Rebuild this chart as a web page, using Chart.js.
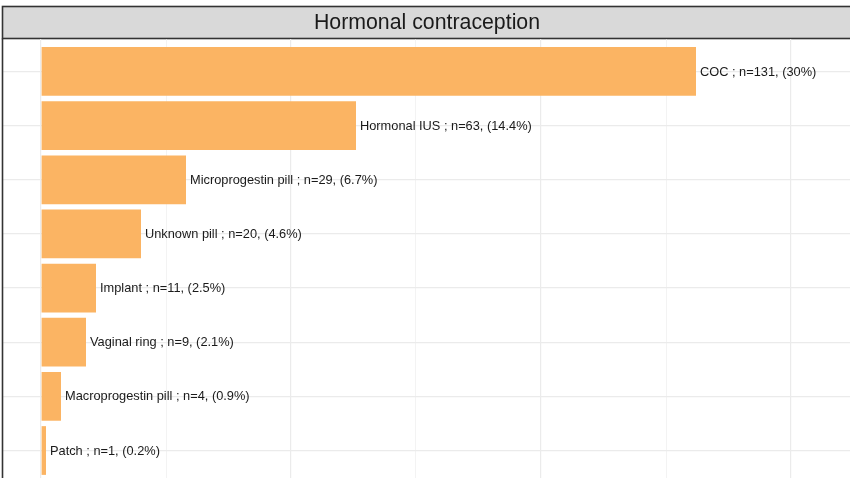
<!DOCTYPE html>
<html>
<head>
<meta charset="utf-8">
<script src="https://cdn.jsdelivr.net/npm/chart.js@4"></script>
<style>
  html, body { margin: 0; padding: 0; overflow: hidden; background: #fff; }
  #wrap { position: absolute; left: 0; top: 0; width: 850px; height: 483px; }
</style>
</head>
<body>
<div id="wrap"><canvas id="chart"></canvas></div>
<script>
const panelTitle = "Hormonal contraception";
const categories = ["COC", "Hormonal IUS", "Microprogestin pill", "Unknown pill",
  "Implant", "Vaginal ring", "Macroprogestin pill", "Patch"];
const counts = [131, 63, 29, 20, 11, 9, 4, 1];
const percents = ["30%", "14.4%", "6.7%", "4.6%", "2.5%", "2.1%", "0.9%", "0.2%"];

const fontFam = '"Liberation Sans", Arial, Helvetica, sans-serif';

// facet strip + left panel border
const stripPlugin = {
  id: 'strip',
  beforeDraw(chart) {
    const ctx = chart.ctx;
    ctx.save();
    ctx.fillStyle = '#d9d9d9';
    ctx.fillRect(2.5, 6.5, 860, 32);
    ctx.strokeStyle = '#333333';
    ctx.lineWidth = 1.6;
    ctx.strokeRect(2.5, 6.5, 860, 32);
    ctx.fillStyle = '#1a1a1a';
    ctx.font = '21.3px ' + fontFam;
    ctx.textAlign = 'center';
    ctx.textBaseline = 'middle';
    ctx.fillText(panelTitle, 427, 23);
    ctx.restore();
  },
  afterDraw(chart) {
    const ctx = chart.ctx;
    ctx.save();
    ctx.strokeStyle = '#333333';
    ctx.lineWidth = 1.6;
    ctx.beginPath();
    ctx.moveTo(2.5, 38.5);
    ctx.lineTo(2.5, 490);
    ctx.stroke();
    ctx.restore();
  }
};

// text labels at the end of each bar
const labelPlugin = {
  id: 'barLabels',
  afterDatasetsDraw(chart) {
    const ctx = chart.ctx;
    const meta = chart.getDatasetMeta(0);
    ctx.save();
    ctx.fillStyle = '#1a1a1a';
    ctx.font = '12.8px ' + fontFam;
    ctx.textAlign = 'left';
    ctx.textBaseline = 'middle';
    meta.data.forEach((bar, i) => {
      const txt = categories[i] + ' ; n=' + counts[i] + ', (' + percents[i] + ')';
      ctx.fillText(txt, bar.x + 4, bar.y + 0.5);
    });
    ctx.restore();
  }
};

new Chart(document.getElementById('chart'), {
  type: 'bar',
  data: {
    datasets: [{
      data: counts.map((n, i) => ({ x: n, y: i })),
      backgroundColor: '#fbb463',
      borderWidth: 0,
      barPercentage: 0.9,
      categoryPercentage: 1.0
    }]
  },
  options: {
    indexAxis: 'y',
    responsive: true,
    maintainAspectRatio: false,
    animation: false,
    layout: { padding: { left: 3, top: 39, right: 0, bottom: 0 } },
    plugins: { legend: { display: false }, tooltip: { enabled: false } },
    scales: {
      x: {
        type: 'linear',
        min: -7.6,
        max: 161.8,
        offset: false,
        border: { display: false },
        ticks: { display: false, stepSize: 25, includeBounds: false },
        grid: {
          offset: false,
          color: '#ebebeb',
          lineWidth: ctx => (ctx.tick && ctx.tick.value % 50 === 0) ? 1.2 : 0.6,
          drawTicks: false
        }
      },
      y: {
        type: 'linear',
        reverse: true,
        min: -0.6,
        max: 7.6,
        offset: false,
        border: { display: false },
        ticks: { display: false, stepSize: 1, includeBounds: false },
        grid: { offset: false, color: '#ebebeb', lineWidth: 1.2, drawTicks: false }
      }
    }
  },
  plugins: [stripPlugin, labelPlugin]
});
</script>
</body>
</html>
